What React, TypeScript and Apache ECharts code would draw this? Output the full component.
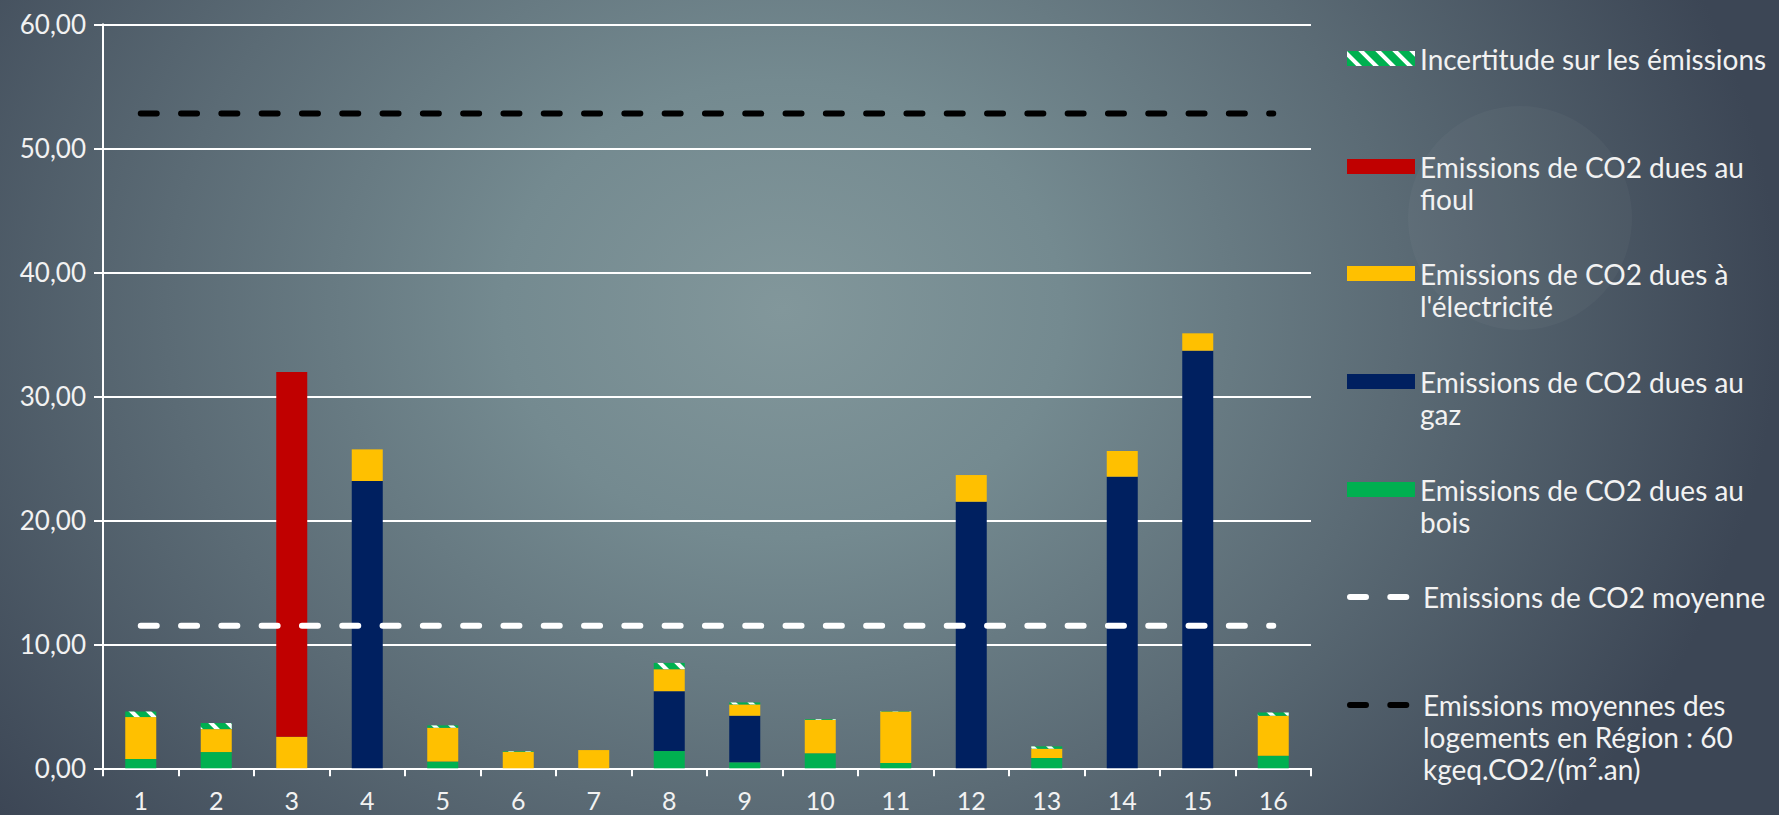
import React, { useEffect, useRef } from "react";
import * as echarts from "echarts";

const categories = ["1", "2", "3", "4", "5", "6", "7", "8", "9", "10", "11", "12", "13", "14", "15", "16"];
const bois = [0.75, 1.31, 0, 0, 0.54, 0, 0, 1.39, 0.48, 1.21, 0.43, 0, 0.83, 0, 0, 1.02];
const gaz = [0, 0, 0, 23.17, 0, 0, 0, 4.83, 3.76, 0, 0, 21.5, 0, 23.52, 33.68, 0];
const electricite = [3.38, 1.85, 2.55, 2.55, 2.73, 1.34, 1.47, 1.77, 0.91, 2.7, 4.15, 2.15, 0.75, 2.07, 1.4, 3.22];
const fioul = [0, 0, 29.41, 0, 0, 0, 0, 0, 0, 0, 0, 0, 0, 0, 0, 0];
const incertitude = [0.45, 0.49, 0, 0, 0.19, 0.05, 0, 0.51, 0.16, 0.06, 0.03, 0, 0.19, 0, 0, 0.26];
const moyenne = [11.5, 11.5, 11.5, 11.5, 11.5, 11.5, 11.5, 11.5, 11.5, 11.5, 11.5, 11.5, 11.5, 11.5, 11.5, 11.5];
const moyenneRegion = [52.8, 52.8, 52.8, 52.8, 52.8, 52.8, 52.8, 52.8, 52.8, 52.8, 52.8, 52.8, 52.8, 52.8, 52.8, 52.8];

const yTicks = { min: 0, max: 60, interval: 10 };

const names = {
  inc: "Incertitude sur les émissions",
  fioul: "Emissions de CO2 dues au fioul",
  elec: "Emissions de CO2 dues à l'électricité",
  gaz: "Emissions de CO2 dues au gaz",
  bois: "Emissions de CO2 dues au bois",
  moy: "Emissions de CO2 moyenne",
  reg: "Emissions moyennes des logements en Région : 60 kgeq.CO2/(m².an)",
};
const legendLines: Record<string, string[]> = {
  [names.inc]: ["Incertitude sur les émissions"],
  [names.fioul]: ["Emissions de CO2 dues au", "fioul"],
  [names.elec]: ["Emissions de CO2 dues à", "l'électricité"],
  [names.gaz]: ["Emissions de CO2 dues au", "gaz"],
  [names.bois]: ["Emissions de CO2 dues au", "bois"],
  [names.moy]: ["Emissions de CO2 moyenne"],
  [names.reg]: ["Emissions moyennes des", "logements en Région : 60", "kgeq.CO2/(m².an)"],
};
const legendOrder = [names.inc, names.fioul, names.elec, names.gaz, names.bois, names.moy, names.reg];
const legendCenters = [58.5, 166.5, 273.5, 381.5, 489.5, 597, 705];

const FONT = 'Lato, "Noto Sans", sans-serif';
const LH = 32;

export default function App() {
  const ref = useRef<HTMLDivElement>(null);
  useEffect(() => {
    document.body.style.margin = "0";
    const chart = echarts.init(ref.current!, null, { renderer: "svg" });
    const barBase = { type: "bar", stack: "total", barWidth: 31 };
    const legends = legendOrder.map((n, i) => {
      const lines = legendLines[n].length;
      const isLine = n === names.moy || n === names.reg;
      const total = 2 * lines - 1;
      const lg: any = {
        show: true,
        data: [n],
        left: 1347,
        top: legendCenters[i] - (total * LH) / 2,
        padding: 0,
        itemWidth: 68,
        itemHeight: 15,
        itemGap: 0,
        selectedMode: false,
        formatter: (name: string) => {
          const l = legendLines[name];
          const pre = new Array(l.length - 1).fill(" ");
          return [...pre, ...l].join("\n");
        },
        textStyle: {
          color: "#f2f2f2",
          fontSize: 28,
          fontFamily: FONT,
          lineHeight: LH,
        },
      };
      if (isLine) {
        lg.lineStyle = { width: 6, cap: "round" };
        lg.itemStyle = { opacity: 0 };
      } else {
        lg.icon = "rect";
      }
      return lg;
    });
    chart.setOption({
      animation: false,
      grid: { left: 103, right: 468, top: 24.3, bottom: 46.7, containLabel: false },
      xAxis: {
        type: "category",
        data: categories,
        boundaryGap: true,
        axisLine: { show: true, lineStyle: { color: "#ffffff", width: 2 } },
        axisTick: { show: true, length: 8, lineStyle: { color: "#ffffff", width: 2 } },
        axisLabel: { color: "#f2f2f2", fontSize: 25, lineHeight: 24, fontFamily: FONT, margin: 20 },
      },
      yAxis: {
        type: "value",
        min: yTicks.min,
        max: yTicks.max,
        interval: yTicks.interval,
        axisLine: { show: true, lineStyle: { color: "#ffffff", width: 2 } },
        axisTick: { show: true, length: 9, lineStyle: { color: "#ffffff", width: 2 } },
        splitLine: { show: true, lineStyle: { color: "#ffffff", width: 2 } },
        axisLabel: {
          color: "#f2f2f2",
          fontSize: 26,
          fontFamily: FONT,
          margin: 17,
          formatter: (v: number) => v.toFixed(2).replace(".", ","),
        },
      },
      legend: legends,
      graphic: [
        {
          type: "circle",
          shape: { cx: 1520, cy: 218, r: 112 },
          style: { fill: "rgba(255,255,255,0.03)" },
          silent: true,
          z: -1,
        },
      ],
      series: [
        { ...barBase, name: names.bois, data: bois, itemStyle: { color: "#00B050" } },
        { ...barBase, name: names.gaz, data: gaz, itemStyle: { color: "#002060" } },
        { ...barBase, name: names.elec, data: electricite, itemStyle: { color: "#FFC000" } },
        { ...barBase, name: names.fioul, data: fioul, itemStyle: { color: "#C00000" } },
        {
          ...barBase,
          name: names.inc,
          data: incertitude,
          itemStyle: {
            color: "#00B050",
            decal: {
              symbol: "rect",
              symbolSize: 1,
              color: "#ffffff",
              dashArrayX: [1, 0],
              dashArrayY: [4, 8],
              rotation: Math.PI / 4,
            },
          },
        },
        {
          type: "line",
          name: names.moy,
          data: moyenne,
          symbol: "none",
          z: 5,
          lineStyle: { color: "#ffffff", width: 6, type: [16, 24.3], cap: "round" },
          itemStyle: { color: "#ffffff" },
        },
        {
          type: "line",
          name: names.reg,
          data: moyenneRegion,
          symbol: "none",
          z: 5,
          lineStyle: { color: "#000000", width: 6, type: [16, 24.3], cap: "round" },
          itemStyle: { color: "#000000" },
        },
      ],
    });
    return () => chart.dispose();
  }, []);
  return (
    <div
      ref={ref}
      style={{
        width: 1779,
        height: 815,
        background:
          "radial-gradient(ellipse 56% 100% at 44% 38%, #82979b 0%, #748a90 28%, #5b6b75 62%, #3c4655 100%)",
      }}
    />
  );
}
